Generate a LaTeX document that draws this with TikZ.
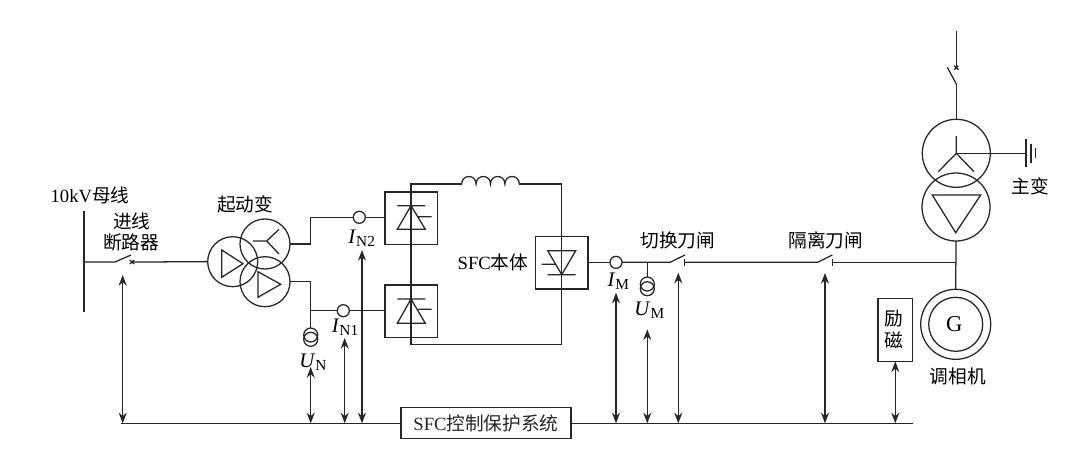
\documentclass[tikz,border=0pt]{standalone}
\usepackage{fontspec}
\setmainfont{Liberation Serif}
\newfontfamily\cjk{Noto Sans CJK SC}
\usetikzlibrary{arrows.meta}
\newcommand{\symb}[2]{{\fontsize{15.5pt}{17pt}\selectfont\textit{#1}}\raisebox{-0.35ex}{\fontsize{11.5pt}{12pt}\selectfont #2}}
\tikzset{
  wire/.style={line width=0.95pt,black!85},
  dbl/.style={wire,{Stealth[length=8pt,width=6pt]}-{Stealth[length=8pt,width=6pt]}},
  ring/.style={circle,draw,line width=0.95pt,black!85,inner sep=0pt,outer sep=0pt,minimum size=#1*0.75pt},
  txt/.style={inner sep=0pt,font=\fontsize{14pt}{16pt}\selectfont},
  cbox/.style={draw,line width=0.95pt,black!85,inner sep=0pt,outer sep=0pt,fill=white},
  sbox/.style={draw,line width=0.95pt,black!85,inner sep=0pt,outer sep=0pt,minimum width=52.6*0.75pt,minimum height=52.4*0.75pt},
}
\begin{document}
\begin{tikzpicture}[x=0.75pt,y=-0.75pt]
\useasboundingbox[fill=white] (0,0) rectangle (1080,454);
% ---- control bus
\coordinate (busL) at (121,423.3);
\coordinate (busR) at (913,423.3);
\draw[wire] (busL) -- (busR);
\node[cbox,minimum width=170*0.75pt,minimum height=30.3*0.75pt,txt] (sfc) at (486,423) {SFC{\cjk 控制保护系统}};
% ---- incoming bus and breaker
\coordinate (hvT) at (84,211);
\coordinate (hvB) at (84,312);
\draw[line width=1.9pt,black!85] (hvT) -- (hvB);
\coordinate (hvJ) at (84,262);
\coordinate (cbA) at (115,262);
\coordinate (cbB) at (131,255);
\coordinate (cbC) at (132,262);
\draw[wire] (hvJ) -- (cbA) -- (cbB);
\draw[wire] (129.8,260) -- (134.2,264) (129.8,264) -- (134.2,260);
% ---- starting transformer
\node[ring=50] (t1) at (232.7,261.7) {};
\node[ring=50] (t2) at (265,244) {};
\node[ring=50] (t3) at (265,281.7) {};
\draw[wire] (cbC) -- (t1.west);
\draw[wire] (221.7,250) -- (221.7,277.3) -- (243,263.7) -- cycle;
\draw[wire] (258,271.7) -- (258,297.3) -- (280.7,284.3) -- cycle;
\coordinate (wy) at (266.7,241);
\draw[wire] (wy) -- (253,241) (wy) -- (279,229.3) (wy) -- (279,254);
% ---- rectifier boxes
\node[sbox] (b1) at (411.3,218.2) {};
\node[sbox] (b2) at (411.3,311.2) {};
\node[sbox] (b3) at (561.7,262.8) {};
\coordinate (tA) at (411,184);
\coordinate (tB) at (461.7,184);
\coordinate (tC) at (519.3,184);
\coordinate (tD) at (561.7,184);
\coordinate (tE) at (561.7,344.3);
\coordinate (tF) at (411,344.3);
\draw[wire] (tB) -- (tA) -- (tF) -- (tE) -- (tD) -- (tC);
\draw[wire] (tB) .. controls (461.7,174) and (476.1,174) .. (476.1,184)
  .. controls (476.1,174) and (490.5,174) .. (490.5,184)
  .. controls (490.5,174) and (504.9,174) .. (504.9,184)
  .. controls (504.9,174) and (519.3,174) .. (tC);
% diodes
\draw[wire] (411,205.7) -- (397.3,229.3) -- (425.3,229.3) -- cycle (397.3,205.7) -- (425.3,205.7) (418.3,216.7) -- (431.7,216.7);
\draw[wire] (411,299) -- (397.3,323.3) -- (425.3,323.3) -- cycle (397.3,299) -- (425.3,299) (418.3,309.3) -- (431.7,309.3);
\draw[wire] (561.7,274.7) -- (547.7,250.7) -- (575.7,250.7) -- cycle (547.7,274.7) -- (575.7,274.7) (541.7,264.3) -- (555,264.3);
% ---- valve-side wiring
\coordinate (w2a) at (310.7,244);
\coordinate (w2b) at (310.7,217.3);
\coordinate (w3a) at (310.7,281.7);
\coordinate (w3b) at (310.7,310.7);
\node[ring=12,fill=white] (in2) at (359.3,217.3) {};
\node[ring=12,fill=white] (in1) at (343.3,310.7) {};
\draw[wire] (t2.east) -- (w2a) -- (w2b) -- (in2.west);
\draw[wire] (in2.east) -- (b1.west |- in2);
\draw[wire] (t3.east) -- (w3a) -- (w3b) -- (in1.west);
\draw[wire] (in1.east) -- (b2.west |- in1);
\node[ring=14] (un1) at (310.7,335) {};
\node[ring=14] (un2) at (310.7,339.3) {};
\draw[wire] (w3b) -- (un1.north);
% ---- machine-side wiring
\node[ring=12] (im) at (616,262.3) {};
\coordinate (um0) at (647.3,262.3);
\node[ring=14] (um1) at (647.3,284) {};
\node[ring=14] (um2) at (647.3,288.7) {};
\draw[wire] (um0) -- (um1.north);
\draw[wire] (b3.east |- im) -- (im.west);
\coordinate (s1a) at (670,262.3);
\coordinate (s1b) at (685,255);
\coordinate (s1c) at (684.3,262.3);
\coordinate (s2a) at (817.7,262.3);
\coordinate (s2b) at (832.3,255);
\coordinate (s2c) at (832.3,262.3);
\coordinate (mj) at (955.7,262.3);
\draw[wire] (im.east) -- (s1a) -- (s1b);
\draw[wire] (684.3,259.2) -- (684.3,265.8);
\draw[wire] (s1c) -- (s2a) -- (s2b);
\draw[wire] (832.3,259.2) -- (832.3,265.8);
\draw[wire] (s2c) -- (mj);
% ---- main transformer
\coordinate (mT) at (956.3,30.7);
\coordinate (mS) at (956.3,67.7);
\coordinate (mB) at (947.3,67.3);
\coordinate (mC) at (956.3,84);
\draw[wire] (mT) -- (mS);
\draw[wire] (954.2,65.7) -- (958.4,69.7) (954.2,69.7) -- (958.4,65.7);
\draw[wire] (mB) -- (mC);
\node[ring=68] (mt1) at (956.3,153.3) {};
\node[ring=68] (mt2) at (956,207) {};
\draw[wire] (mC) -- (mt1.north);
\coordinate (mw) at (956.3,153.3);
\draw[wire] (mw) -- (956.3,136) (mw) -- (938.3,171.7) (mw) -- (974,171.7);
\coordinate (gnd) at (1026,153.3);
\draw[wire] (mw) -- (gnd);
\draw[wire] (1026,139.3) -- (1026,167.3) (1031,144) -- (1031,162.7) (1035.7,148.3) -- (1035.7,158.3);
\draw[wire] (932.3,195) -- (980.7,195) -- (955.7,232.7) -- cycle;
% ---- generator
\node[ring=70] (g) at (955.7,324.3) {};
\node[ring=54] (gi) at (955.7,324.3) {};
\node[txt,font=\fontsize{17pt}{18pt}\selectfont] (gl) at (954.3,324) {G};
\draw[wire] (mt2.south) -- (g.north);
% ---- excitation
\node[cbox,minimum width=34.7*0.75pt,minimum height=62.6*0.75pt] (ex) at (895.3,330) {};
\node[txt] (ex1) at (894.3,319) {\cjk 励};
\node[txt] (ex2) at (894.3,340.7) {\cjk 磁};
% ---- measurement arrows
\coordinate (a1) at (122.7,275);
\coordinate (a2) at (310.7,367);
\coordinate (a3) at (344.7,338);
\coordinate (a4) at (362,250);
\coordinate (a5) at (616,292.7);
\coordinate (a6) at (647.3,329.3);
\coordinate (a7) at (678.3,272.7);
\coordinate (a8) at (825,273);
\draw[dbl] (a1) -- (a1 |- busL);
\draw[dbl] (a2) -- (a2 |- busL);
\draw[dbl] (a3) -- (a3 |- busL);
\draw[dbl] (a4) -- (a4 |- busL);
\draw[dbl] (a5) -- (a5 |- busL);
\draw[dbl] (a6) -- (a6 |- busL);
\draw[dbl] (a7) -- (a7 |- busL);
\draw[dbl] (a8) -- (a8 |- busL);
\draw[dbl] (ex.south) -- (ex.south |- busL);
% ---- labels
\node[txt] (l1) at (90,195) {10kV{\cjk 母线}};
\node[txt] (l2) at (131.7,221.7) {\cjk 进线};
\node[txt] (l3) at (131,242.7) {\cjk 断路器};
\node[txt] (l4) at (245,204) {\cjk 起动变};
\node[txt] (l5) at (361.7,238) {\symb{I}{N2}};
\node[txt] (l6) at (345,327) {\symb{I}{N1}};
\node[txt] (l7) at (313,362) {\symb{U}{N}};
\node[txt] (l8) at (493,262) {SFC{\cjk 本体}};
\node[txt] (l9) at (618.3,281.7) {\symb{I}{M}};
\node[txt] (l10) at (649.3,310) {\symb{U}{M}};
\node[txt] (l11) at (677.7,240) {\cjk 切换刀闸};
\node[txt] (l12) at (825.7,240) {\cjk 隔离刀闸};
\node[txt] (l13) at (1030,186) {\cjk 主变};
\node[txt] (l14) at (957.7,376) {\cjk 调相机};
\end{tikzpicture}
\end{document}
